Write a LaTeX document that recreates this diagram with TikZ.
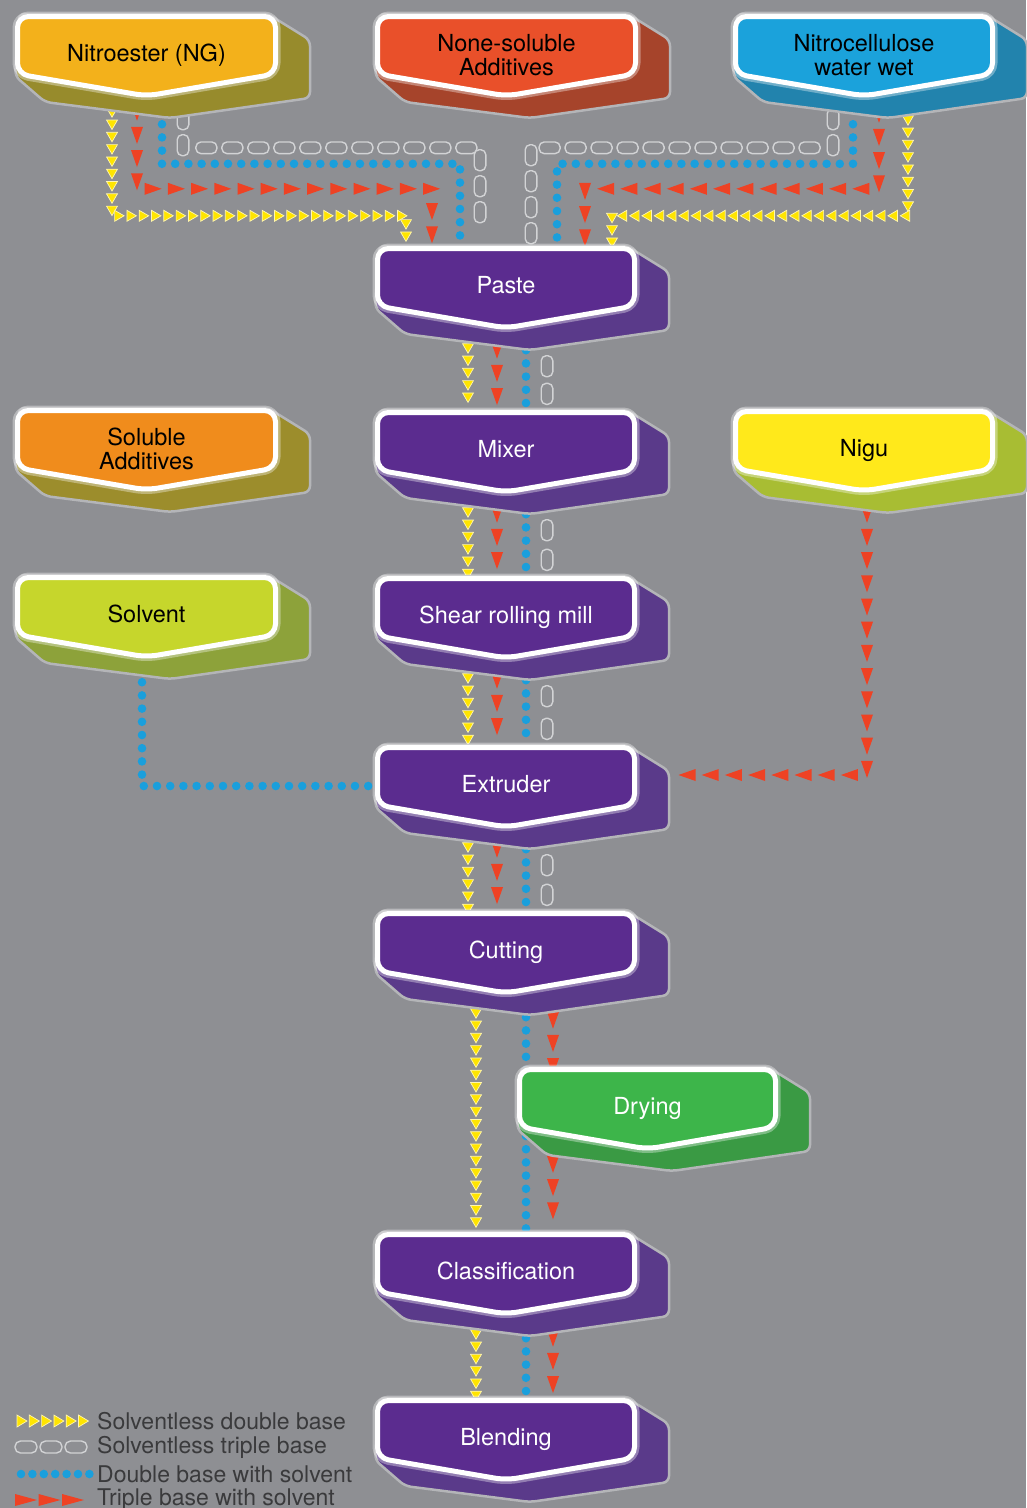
\documentclass[tikz,border=0pt]{standalone}
\usepackage{fontspec}
\setmainfont{TeX Gyre Heros}
\usetikzlibrary{calc,decorations.markings}
\pgfdeclarelayer{back}
\pgfsetlayers{back,main}

\definecolor{bgc}{HTML}{8E8F93}
\definecolor{glowc}{HTML}{B4B5B8}
\definecolor{ngF}{HTML}{F3B11B}\definecolor{ngD}{HTML}{978B2C}
\definecolor{nsF}{HTML}{E9502A}\definecolor{nsD}{HTML}{A6442B}
\definecolor{ncF}{HTML}{1BA2DB}\definecolor{ncD}{HTML}{2283AD}
\definecolor{puF}{HTML}{5B2C8F}\definecolor{puD}{HTML}{5A3A8A}
\definecolor{saF}{HTML}{F08C1C}\definecolor{saD}{HTML}{9C8D2C}
\definecolor{svF}{HTML}{C6D62C}\definecolor{svD}{HTML}{8DA23A}
\definecolor{niF}{HTML}{FFE91B}\definecolor{niD}{HTML}{A8BD33}
\definecolor{drF}{HTML}{3DB54A}\definecolor{drD}{HTML}{3A9A44}
\definecolor{ytri}{HTML}{FFE500}\definecolor{yglow}{HTML}{FFF6B0}
\definecolor{rtri}{HTML}{EE4224}
\definecolor{bdot}{HTML}{1A9FDC}
\definecolor{pillc}{HTML}{D2D3D5}
\definecolor{legc}{HTML}{3A3A3C}

\tikzset{
  boxtext/.style={font=\fontsize{23.5}{24}\selectfont, align=center, inner sep=0pt},
  legtext/.style={font=\fontsize{23}{24}\selectfont, text=legc, inner sep=0pt, anchor=west},
  yconn/.style={decoration={markings, mark=between positions 0 and 1 step #1 with {\path[fill=ytri, draw=yglow, line width=0.7pt] (5pt,0pt) -- (-4.5pt,5.5pt) -- (-4.5pt,-5.5pt) -- cycle;}}, decorate},
  yconn/.default=12.3pt,
  rconn/.style={decoration={markings, mark=between positions 0 and 1 step #1 with {\fill[rtri] (8.5pt,0pt) -- (-8.5pt,6pt) -- (-8.5pt,-6pt) -- cycle;}}, decorate},
  rconn/.default=23.2pt,
  bconn/.style={decoration={markings, mark=between positions 0 and 1 step #1 with {\fill[bdot] (0pt,0pt) circle (4.3pt);}}, decorate},
  bconn/.default=13.2pt,
  pconn/.style={decoration={markings, mark=between positions 0 and 1 step #1 with {\path[draw=pillc, fill=bgc, line width=1.4pt, rounded corners=5pt] (-10.5pt,-5.8pt) rectangle (10.5pt,5.8pt);}}, decorate},
  pconn/.default=26pt,
  pconnends/.style={decoration={markings,
      mark=at position 0 with {\path[draw=pillc, fill=bgc, line width=1.4pt, rounded corners=5pt] (-10.5pt,-5.8pt) rectangle (10.5pt,5.8pt);},
      mark=at position 1 with {\path[draw=pillc, fill=bgc, line width=1.4pt, rounded corners=5pt] (-10.5pt,-5.8pt) rectangle (10.5pt,5.8pt);}}, decorate},
}

% #1 name, #2 left, #3 top, #4 width, #5 face, #6 dark, #7 text colour, #8 text
\newcommand{\procbox}[8]{%
  \pgfmathsetmacro{\pbL}{#2}\pgfmathsetmacro{\pbT}{#3}%
  \pgfmathsetmacro{\pbR}{#2+#4}\pgfmathsetmacro{\pbC}{#2+#4/2}%
  \path[fill=#6, draw=glowc, line width=2.5pt, line join=round, rounded corners=6pt]
    (\pbL+4,\pbT) -- (\pbR-10,\pbT) -- (\pbR+32,\pbT+26) -- (\pbR+32,\pbT+84)
    -- (\pbL+155,\pbT+104) -- (\pbL+30,\pbT+88) -- (\pbL,\pbT+62) -- cycle;
  \path[draw=white, draw opacity=0.35, line width=10pt, line join=round, rounded corners=11pt]
    (\pbL+2.5,\pbT+30) -- (\pbL+2.5,\pbT+2.5) -- (\pbR-2.5,\pbT+2.5) -- (\pbR-2.5,\pbT+60)
    -- (\pbC,\pbT+82) -- (\pbL+2.5,\pbT+60) -- cycle;
  \path[fill=#5, draw=white, line width=5pt, line join=round, rounded corners=11pt]
    (\pbL+2.5,\pbT+30) -- (\pbL+2.5,\pbT+2.5) -- (\pbR-2.5,\pbT+2.5) -- (\pbR-2.5,\pbT+60)
    -- (\pbC,\pbT+82) -- (\pbL+2.5,\pbT+60) -- cycle;
  \node[boxtext, text=#7, minimum width=#4pt, minimum height=78pt] (#1) at (\pbC,\pbT+41) {\vphantom{(g}#8};
}

\begin{document}
\begin{tikzpicture}[x=1pt,y=-1pt]
\useasboundingbox (0,0) rectangle (1026,1508);

% ---------- boxes ----------
\procbox{ng}{15}{14}{263}{ngF}{ngD}{black}{Nitroester (NG)}
\procbox{nsa}{375}{14}{263}{nsF}{nsD}{black}{None-soluble\\Additives}
\procbox{ncw}{733}{14}{262}{ncF}{ncD}{black}{Nitrocellulose\\water wet}
\procbox{paste}{375}{246}{262}{puF}{puD}{white}{Paste}
\procbox{soluble}{15}{408}{263}{saF}{saD}{black}{Soluble\\Additives}
\procbox{mixer}{375}{410}{262}{puF}{puD}{white}{Mixer}
\procbox{nigu}{733}{409}{262}{niF}{niD}{black}{Nigu}
\procbox{solvent}{15}{575}{263}{svF}{svD}{black}{Solvent}
\procbox{shear}{375}{576}{262}{puF}{puD}{white}{Shear rolling mill}
\procbox{extruder}{375}{745}{262}{puF}{puD}{white}{Extruder}
\procbox{cutting}{375}{911}{262}{puF}{puD}{white}{Cutting}
\procbox{drying}{517}{1067}{261}{drF}{drD}{white}{Drying}
\procbox{classif}{375}{1232}{262}{puF}{puD}{white}{Classification}
\procbox{blending}{375}{1398}{262}{puF}{puD}{white}{Blending}

% ---------- legend ----------
\foreach \i in {0,...,5}
  \path[fill=ytri, draw=yglow, line width=0.7pt] ({27+12.3*\i},1421) -- ++(-10,-6) -- ++(0,12) -- cycle;
\foreach \i in {0,1,2}
  \path[draw=pillc, fill=bgc, line width=1.4pt, rounded corners=5.5pt] ({15+25*\i},1441) rectangle ++(22,12);
\foreach \i in {0,...,6}
  \fill[bdot] ({21+11.4*\i},1474) circle (4.3pt);
\foreach \i in {0,1,2}
  \fill[rtri] ({15+23.5*\i},1494) -- ++(22,6) -- ++(-22,6) -- cycle;
\node[legtext] (leg1) at (97,1421) {Solventless double base};
\node[legtext] (leg2) at (97,1447) {Solventless triple base};
\node[legtext] (leg3) at (97,1474) {Double base with solvent};
\node[legtext] (leg4) at (97,1500) {Triple base with solvent};

% ---------- connectors (behind boxes) ----------
\begin{pgfonlayer}{back}
\fill[bgc] (0,0) rectangle (1026,1508);

% from Nitroester (NG) to Paste
\path[yconn] ($(ng.south)+(-34.5,18)$) |- ($(paste.north)+(-100,-32)$) -- ($(paste.north)+(-100,-4)$);
\path[rconn] ($(ng.south)+(-9.5,18)$) |- ($(paste.north)+(-74,-59)$) -- ($(paste.north)+(-74,-4)$);
\path[bconn] ($(ng.south)+(15.5,30)$) |- ($(paste.north)+(-46,-84)$) -- ($(paste.north)+(-46,-2)$);
\path[pconn] ($(ng.south)+(36.5,25)$) |- ($(paste.north)+(-26,-100)$) -- ($(paste.north)+(-26,-14)$);

% from Nitrocellulose water wet to Paste
\path[yconn] ($(ncw.south)+(44,26)$) |- ($(paste.north)+(106,-32)$) -- ($(paste.north)+(106,-4)$);
\path[rconn] ($(ncw.south)+(15,20)$) |- ($(paste.north)+(79,-59)$) -- ($(paste.north)+(79,-4)$);
\path[bconn] ($(ncw.south)+(-11,30)$) |- ($(paste.north)+(51,-84)$) -- ($(paste.north)+(51,-2)$);
\path[pconn] ($(ncw.south)+(-31,25)$) |- ($(paste.north)+(25,-100)$) -- ($(paste.north)+(25,-14)$);

% purple chain
\foreach \a/\b in {paste/mixer, mixer/shear, shear/extruder, extruder/cutting}{
  \path[yconn] ($(\a.south)+(-38,22)$) -- ($(\b.north)+(-38,-4)$);
  \path[rconn] ($(\a.south)+(-9,24)$) -- ($(\b.north)+(-9,-4)$);
  \path[bconn] ($(\a.south)+(20,24)$) -- ($(\b.north)+(20,-2)$);
  \path[pconnends] ($(\a.south)+(41,40)$) -- ($(\b.north)+(41,-18)$);
}

% cutting -> drying -> classification
\path[yconn] ($(cutting.south)+(-30,22)$) -- ($(classif.north)+(-30,-4)$);
\path[bconn] ($(cutting.south)+(20,26)$) -- ($(classif.north)+(20,-2)$);
\path[rconn] ($(cutting.south)+(47,29)$) -- ($(drying.north)+(-94.5,0)$);
\path[rconn] ($(drying.south)+(-94.5,-6)$) -- ($(classif.north)+(47,-6)$);

% classification -> blending
\path[yconn] ($(classif.south)+(-30,22)$) -- ($(blending.north)+(-30,-4)$);
\path[bconn] ($(classif.south)+(20,26)$) -- ($(blending.north)+(20,-2)$);
\path[rconn] ($(classif.south)+(47,26)$) -- ($(blending.north)+(47,-4)$);

% solvent -> extruder
\path[bconn] ($(solvent.south)+(-4.5,27)$) |- (extruder.west);
% nigu -> extruder
\path[rconn] ($(nigu.south)+(3,25)$) |- ($(extruder.east)+(31,-11)$);
\end{pgfonlayer}
\end{tikzpicture}
\end{document}
